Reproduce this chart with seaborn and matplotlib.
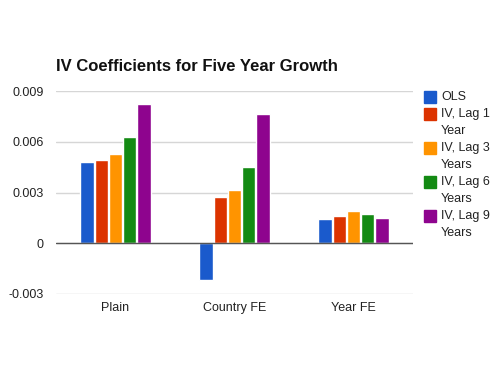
import pandas as pd
import matplotlib
matplotlib.use("Agg")
import matplotlib.pyplot as plt
import seaborn as sns

# values
groups = ["Plain", "Country FE", "Year FE"]
series = ["OLS", "IV, Lag 1\nYear", "IV, Lag 3\nYears", "IV, Lag 6\nYears", "IV, Lag 9\nYears"]
ols = [0.00482, -0.00218, 0.00141]
lag1 = [0.00492, 0.00272, 0.00163]
lag3 = [0.00529, 0.00314, 0.00192]
lag6 = [0.00631, 0.00453, 0.00175]
lag9 = [0.00824, 0.00765, 0.00151]
yticks = [-0.003, 0, 0.003, 0.006, 0.009]
ytick_labels = ["-0.003", "0", "0.003", "0.006", "0.009"]

colors = ["#1a5acc", "#dc3300", "#ff9400", "#138a13", "#8e048e"]

rows = []
for name, vals in zip(series, [ols, lag1, lag3, lag6, lag9]):
    for g, v in zip(groups, vals):
        rows.append({"group": g, "series": name, "value": v})
df = pd.DataFrame(rows)

sns.set_style("white")
plt.rcParams["font.family"] = ["Liberation Sans", "DejaVu Sans"]

fig = plt.figure(figsize=(5, 3.75), dpi=100)
ax = fig.add_axes([0.112, 0.216, 0.714, 0.541])

sns.barplot(data=df, x="group", y="value", hue="series", palette=colors,
            width=0.6, gap=0.08, ax=ax, legend=False, saturation=1)

ax.set_ylim(-0.003, 0.009)
ax.set_yticks(yticks)
ax.set_yticklabels(ytick_labels)
ax.set_xlim(-0.5, 2.5)
ax.grid(axis="y", color="#d6d6d6", linewidth=1)
ax.set_axisbelow(True)
ax.axhline(0, color="#555555", linewidth=1, zorder=3)
for s in ax.spines.values():
    s.set_visible(False)
ax.tick_params(axis="both", length=0, labelsize=9, colors="#222222")
ax.tick_params(axis="x", pad=6)
ax.tick_params(axis="y", pad=9)
ax.set_xlabel("")
ax.set_ylabel("")

fig.text(0.112, 0.81, "IV Coefficients for Five Year Growth", fontsize=12,
         fontweight="bold", color="#111111")

# legend: square swatch next to the first line of each label
W, H = 500, 375
y = 91
for name, c in zip(series, colors):
    fig.patches.append(plt.Rectangle((424 / W, 1 - (y + 12) / H), 12 / W, 12 / H,
                                     color=c, transform=fig.transFigure))
    fig.text(441 / W, 1 - (y + 0.5) / H, name, fontsize=9, va="top", ha="left",
             linespacing=1.5, color="#222222")
    y += 17 * (name.count("\n") + 1)

fig.savefig("out.png", dpi=100)
